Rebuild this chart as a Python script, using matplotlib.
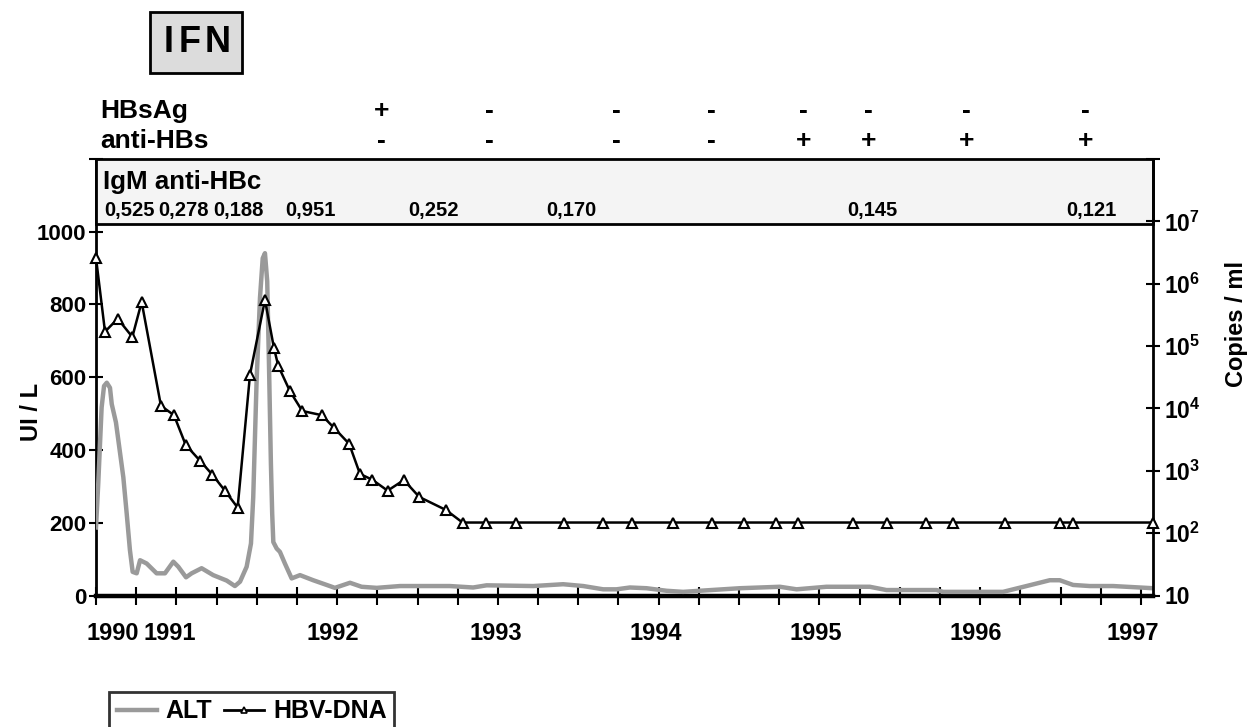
import matplotlib
matplotlib.use('Agg')
import matplotlib.pyplot as plt
import matplotlib.transforms as mtransforms
from matplotlib.patches import Rectangle
from matplotlib.lines import Line2D
from matplotlib.ticker import NullLocator
import numpy as np

plt.rcParams['font.family'] = ['Liberation Sans', 'DejaVu Sans']
plt.rcParams['font.weight'] = 'bold'
plt.rcParams['mathtext.fontset'] = 'custom'
plt.rcParams['mathtext.rm'] = 'Liberation Sans:bold'
plt.rcParams['mathtext.bf'] = 'Liberation Sans:bold'
plt.rcParams['mathtext.it'] = 'Liberation Sans:bold'

# ---------------- data ----------------
alt_t = [1990.50, 1990.514, 1990.535, 1990.550, 1990.567, 1990.587, 1990.598, 1990.624,
         1990.645, 1990.670, 1990.691, 1990.711, 1990.728, 1990.753, 1990.774, 1990.815,
         1990.877, 1990.929, 1990.981, 1991.012, 1991.060, 1991.095, 1991.157, 1991.229,
         1991.313, 1991.364, 1991.396, 1991.437, 1991.464, 1991.478, 1991.499, 1991.520,
         1991.537, 1991.551, 1991.565, 1991.576, 1991.588, 1991.596, 1991.603, 1991.624,
         1991.644, 1991.675, 1991.717, 1991.769, 1991.851, 1991.935, 1991.986, 1992.080,
         1992.152, 1992.246, 1992.391, 1992.701, 1992.846, 1992.930, 1993.220, 1993.406,
         1993.531, 1993.655, 1993.738, 1993.821, 1993.925, 1994.049, 1994.152, 1994.256,
         1994.505, 1994.754, 1994.858, 1995.044, 1995.313, 1995.417, 1995.728, 1995.769,
         1996.142, 1996.288, 1996.433, 1996.495, 1996.578, 1996.682, 1996.827, 1997.075]
alt_v = [187, 308, 517, 576, 585, 571, 526, 476,
         407, 325, 225, 125, 65, 61, 97, 88,
         61, 61, 93, 79, 50, 61, 75, 56,
         41, 26, 38, 79, 143, 270, 590, 818,
         927, 941, 864, 636, 362, 225, 147, 129,
         120, 88, 47, 56, 42, 29, 21, 35,
         24, 21, 26, 26, 22, 28, 26, 31,
         26, 17, 17, 22, 20, 13, 10, 13,
         20, 24, 17, 24, 24, 15, 15, 10,
         10, 26, 42, 42, 29, 26, 26, 20]

hbv_t = [1990.500, 1990.556, 1990.635, 1990.726, 1990.784, 1990.904, 1990.985, 1991.058,
         1991.147, 1991.223, 1991.302, 1991.381, 1991.458, 1991.551, 1991.607, 1991.634,
         1991.706, 1991.783, 1991.904, 1991.980, 1992.075, 1992.142, 1992.218, 1992.314,
         1992.415, 1992.511, 1992.677, 1992.780, 1992.925, 1993.112, 1993.410, 1993.655,
         1993.835, 1994.090, 1994.329, 1994.530, 1994.727, 1994.864, 1995.210, 1995.423,
         1995.660, 1995.831, 1996.157, 1996.495, 1996.578, 1997.075]
hbv_v = [2.6e6, 1.7e5, 2.75e5, 1.4e5, 5.1e5, 1.1e4, 7.8e3, 2.6e3,
         1.45e3, 870, 480, 257, 3.5e4, 5.5e5, 9.3e4, 4.8e4,
         1.9e4, 9.1e3, 7.8e3, 4.9e3, 2.7e3, 890, 720, 480,
         710, 380, 235, 148, 148, 148, 148, 148,
         148, 148, 148, 148, 148, 148, 148, 148,
         148, 148, 148, 148, 148, 148]

sero_t = [1992.278, 1992.950, 1993.734, 1994.331, 1994.903, 1995.304, 1995.913, 1996.654]
hbsag = ['+', '-', '-', '-', '-', '-', '-', '-']
anti_hbs = ['-', '-', '-', '-', '+', '+', '+', '+']

igm_t = [1990.711, 1991.047, 1991.383, 1991.831, 1992.602, 1993.454, 1995.332, 1996.694]
igm_vals = ['0,525', '0,278', '0,188', '0,951', '0,252', '0,170', '0,145', '0,121']

year_pos = [1990.606, 1990.96, 1991.974, 1992.988, 1993.98, 1994.978, 1995.97, 1996.95]
year_labels = ['1990', '1991', '1992', '1993', '1994', '1995', '1996', '1997']

alt_ticks = [0, 200, 400, 600, 800, 1000, 1200]
alt_ticklabels = ['0', '200', '400', '600', '800', '1000', '']
dna_ticks = [1e1, 1e2, 1e3, 1e4, 1e5, 1e6, 1e7, 1e8]
dna_ticklabels = ['10', r'$10^{2}$', r'$10^{3}$', r'$10^{4}$', r'$10^{5}$',
                  r'$10^{6}$', r'$10^{7}$', '']

# ---------------- figure ----------------
W, H = 1250, 727
fig = plt.figure(figsize=(W / 100, H / 100), dpi=100)
ax_left, ax_right, ax_top, ax_bot = 96, 1153, 159, 595.5
ax = fig.add_axes([ax_left / W, 1 - ax_bot / H, (ax_right - ax_left) / W, (ax_bot - ax_top) / H])
ax2 = ax.twinx()

ALT_COLOR = '#9a9a9a'
FS = 17

ax.plot(alt_t, alt_v, color=ALT_COLOR, lw=3.2, solid_joinstyle='round', zorder=3)
ax2.plot(hbv_t, hbv_v, color='black', lw=1.8, marker='^', ms=7.5, mfc='white',
         mec='black', mew=1.5, zorder=4, clip_on=False)

ax.set_xlim(1990.5, 1997.075)
ax.set_ylim(0, 1200)
ax2.set_yscale('log')
ax2.set_ylim(10, 1e8)

# spines
for s in ['top', 'right']:
    ax.spines[s].set_visible(False)
for s in ['top', 'left', 'bottom']:
    ax2.spines[s].set_visible(False)
ax.spines['left'].set_linewidth(2)
ax.spines['bottom'].set_linewidth(3.2)
ax2.spines['right'].set_linewidth(2)

# y ticks
ax.set_yticks(alt_ticks)
ax.set_yticklabels(alt_ticklabels)
ax.tick_params(axis='y', direction='inout', length=10, width=1.5, labelsize=16, pad=2)
ax2.set_yticks(dna_ticks)
ax2.set_yticklabels(dna_ticklabels)
ax2.yaxis.set_minor_locator(NullLocator())
ax2.tick_params(axis='y', direction='inout', length=10, width=1.5, labelsize=16.5, pad=3)

# x ticks: quarterly marks + year labels
ax.set_xticks(np.arange(1990.5, 1997.01, 0.25), minor=True)
ax.tick_params(axis='x', which='minor', direction='inout', length=13, width=1.5)
ax.set_xticks(year_pos)
ax.set_xticklabels(year_labels)
ax.tick_params(axis='x', which='major', length=0, labelsize=FS, pad=19)

for lab in ax.get_xticklabels() + ax.get_yticklabels() + ax2.get_yticklabels():
    lab.set_fontweight('bold')

# axis titles
fig.text(32 / W, 1 - 412 / H, 'UI / L', rotation=90, ha='center', va='center',
         fontsize=FS, fontweight='bold')
fig.text(1237 / W, 1 - 324 / H, 'Copies / ml', rotation=90, ha='center', va='center',
         fontsize=FS, fontweight='bold')

# IgM anti-HBc box
box_y0 = (ax_bot - 224) / (ax_bot - ax_top)
ax2.add_patch(Rectangle((0, box_y0), 1, 1 - box_y0, transform=ax2.transAxes,
                        facecolor='#f4f4f4', edgecolor='black', lw=2, clip_on=False, zorder=1))
blend = mtransforms.blended_transform_factory(ax.transData, ax.transAxes)
ax2.text((103 - ax_left) / (ax_right - ax_left), (ax_bot - 182) / (ax_bot - ax_top), 'IgM anti-HBc',
         transform=ax2.transAxes, ha='left', va='center', fontsize=18.6, fontweight='bold', zorder=5)
for t, v in zip(igm_t, igm_vals):
    ax2.text(t, (ax_bot - 211) / (ax_bot - ax_top), v, transform=blend, ha='center',
             va='center', fontsize=14.5, fontweight='bold', zorder=5)

# HBsAg / anti-HBs rows
y_hbsag = (ax_bot - 111) / (ax_bot - ax_top)
y_anti = (ax_bot - 141) / (ax_bot - ax_top)
ax.text((100 - ax_left) / (ax_right - ax_left), y_hbsag, 'HBsAg', transform=ax.transAxes,
        ha='left', va='center', fontsize=19, fontweight='bold')
ax.text((100 - ax_left) / (ax_right - ax_left), y_anti, 'anti-HBs', transform=ax.transAxes,
        ha='left', va='center', fontsize=19, fontweight='bold')
for t, a, b in zip(sero_t, hbsag, anti_hbs):
    ax.text(t, y_hbsag, a, transform=blend, ha='center', va='center', fontsize=19, fontweight='bold')
    ax.text(t, y_anti, b, transform=blend, ha='center', va='center', fontsize=19, fontweight='bold')

# IFN box
fig.patches.append(Rectangle((150 / W, 1 - 73 / H), 92 / W, 61 / H, transform=fig.transFigure,
                             facecolor='#dcdcdc', edgecolor='black', lw=2, figure=fig))
for ch, xp in zip(['I', 'F', 'N'], [168.5, 189.5, 218]):
    fig.text(xp / W, 1 - 43 / H, ch, ha='center', va='center', fontsize=26, fontweight='bold')

# legend
handles = [Line2D([], [], color=ALT_COLOR, lw=3.2),
           Line2D([], [], color='black', lw=2, marker='^', ms=5, mfc='white', mec='black', mew=1.2)]
leg = fig.legend(handles, ['ALT', 'HBV-DNA'], loc='upper left', bbox_to_anchor=(109 / W, 1 - 692 / H),
                 ncol=2, frameon=True, fancybox=False, edgecolor='black', borderaxespad=0,
                 prop={'size': 18, 'weight': 'bold'}, handlelength=1.6, handletextpad=0.35,
                 columnspacing=0.5, borderpad=0.3)
leg.get_frame().set_linewidth(2)

fig.savefig('out.png', dpi=100)
